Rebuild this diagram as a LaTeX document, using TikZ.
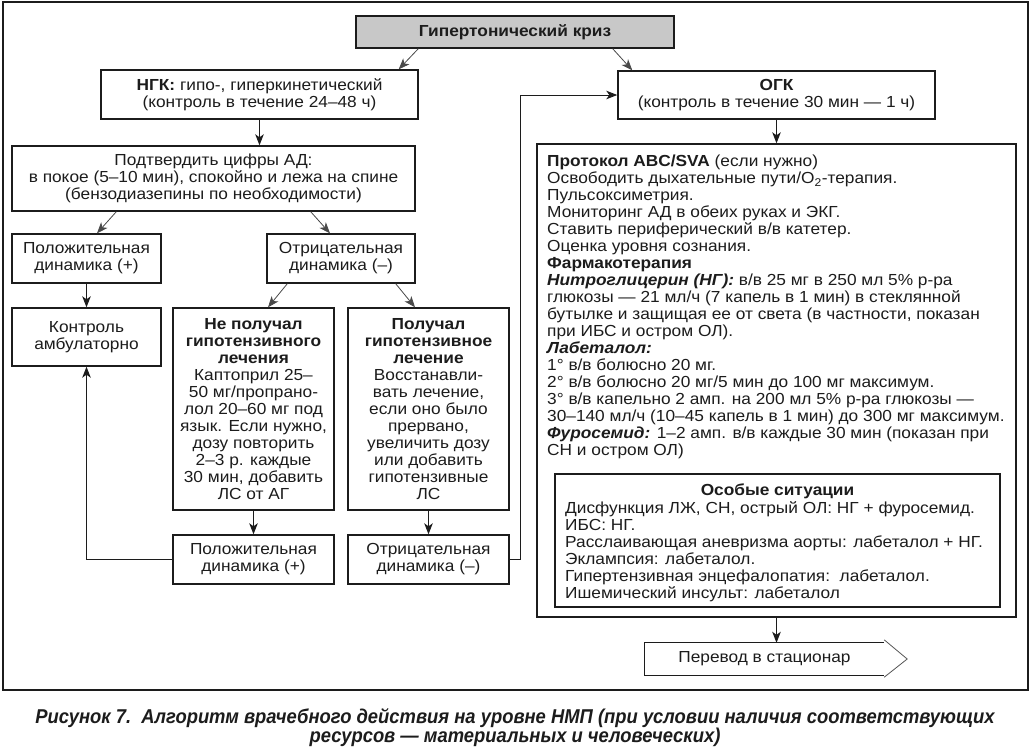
\documentclass[tikz,border=0pt]{standalone}
\usepackage{fontspec}
\setmainfont[FakeStretch=1.08]{Liberation Sans}
\newfontfamily\capfont[FakeStretch=0.92]{Liberation Sans}
\usetikzlibrary{arrows.meta}
\definecolor{ink}{HTML}{1C1C1C}
\definecolor{topgray}{HTML}{C8C8C8}
\newcommand\fsz{\fontsize{16}{17}\selectfont}
\begin{document}
\begin{tikzpicture}[x=1pt,y=-1pt,
  box/.style={draw=ink, line width=1.4pt, fill=white, align=center, inner sep=0pt, font=\fsz, text=ink},
  plain/.style={inner sep=0pt, font=\fsz, text=ink},
  arr/.style={draw=ink, line width=1pt, -{Stealth[length=11pt,width=8.5pt,inset=3pt]}},
  darr/.style={draw=ink!80, line width=0.8pt, -{Stealth[length=11pt,width=8.5pt,inset=3pt]}}]
\useasboundingbox (0,0) rectangle (1031,748);
\fill[white] (0,0) rectangle (1031,748);
% outer frame
\draw[ink, line width=1.4pt] (3,2) rectangle (1028,690);

\node[box, fill=topgray, minimum width=318pt, minimum height=32pt] (top) at (515,32) {\textbf{Гипертонический криз}};
\node[box, minimum width=317pt, minimum height=49pt] (ngk) at (259.5,94.5) {\textbf{НГК:} гипо-, гиперкинетический\\(контроль в течение 24–48 ч)};
\node[box, minimum width=317pt, minimum height=48pt] (ogk) at (776.5,95) {\textbf{ОГК}\\(контроль в течение 30 мин — 1 ч)};
\node[box, minimum width=403pt, minimum height=65pt] (confirm) at (213.5,178.5) {Подтвердить цифры АД:\\в покое (5–10 мин), спокойно и лежа на спине\\(бензодиазепины по необходимости)};
\node[box, minimum width=149pt, minimum height=49pt] (posL) at (86.5,258.5) {Положительная\\динамика (+)};
\node[box, minimum width=148pt, minimum height=49pt] (negL) at (341,258.5) {Отрицательная\\динамика (–)};
\node[box, minimum width=149pt, minimum height=58pt] (ctrl) at (86.5,337) {Контроль\\амбулаторно};
\node[box, minimum width=161pt, minimum height=202pt] (nop) at (253.5,409) {\textbf{Не получал}\\\textbf{гипотензивного}\\\textbf{лечения}\\Каптоприл 25–\\50 мг/пропрано-\\лол 20–60 мг под\\язык. Если нужно,\\дозу повторить\\2–3 р. каждые\\30 мин, добавить\\ЛС от АГ};
\node[box, minimum width=161pt, minimum height=202pt] (got) at (428.5,409) {\textbf{Получал}\\\textbf{гипотензивное}\\\textbf{лечение}\\Восстанавли-\\вать лечение,\\если оно было\\прервано,\\увеличить дозу\\или добавить\\гипотензивные\\ЛС};
\node[box, minimum width=161pt, minimum height=49pt] (posB) at (253.5,559.5) {Положительная\\динамика (+)};
\node[box, minimum width=161pt, minimum height=49pt] (negB) at (428.5,559.5) {Отрицательная\\динамика (–)};

% protocol box
\node[box, minimum width=479pt, minimum height=473pt] (proto) at (776.5,380.5) {};
\node[plain, align=left, anchor=north west] (prototext) at (547,155) {\textbf{Протокол ABC/SVA} (если нужно)\\
Освободить дыхательные пути/O\textsubscript{2}-терапия.\\
Пульсоксиметрия.\\
Мониторинг АД в обеих руках и ЭКГ.\\
Ставить периферический в/в катетер.\\
Оценка уровня сознания.\\
\textbf{Фармакотерапия}\\
\textbf{\textit{Нитроглицерин (НГ):}} в/в 25 мг в 250 мл 5\% р-ра\\
глюкозы — 21 мл/ч (7 капель в 1 мин) в стеклянной\\
бутылке и защищая ее от света (в частности, показан\\
при ИБС и остром ОЛ).\\
\textbf{\textit{Лабеталол:}}\\
1° в/в болюсно 20 мг.\\
2° в/в болюсно 20 мг/5 мин до 100 мг максимум.\\
3° в/в капельно 2 амп. на 200 мл 5\% р-ра глюкозы —\\
30–140 мл/ч (10–45 капель в 1 мин) до 300 мг максимум.\\
\textbf{\textit{Фуросемид:}} 1–2 амп. в/в каждые 30 мин (показан при\\
СН и остром ОЛ)};

\node[box, minimum width=445pt, minimum height=133pt] (special) at (777.5,540.5) {};
\node[plain] (spectitle) at (777.5,491) {\textbf{Особые ситуации}};
\node[plain, align=left, anchor=north west] (spectext) at (565,501) {Дисфункция ЛЖ, СН, острый ОЛ: НГ + фуросемид.\\
ИБС: НГ.\\
Расслаивающая аневризма аорты: лабеталол + НГ.\\
Эклампсия: лабеталол.\\
Гипертензивная энцефалопатия:\ \ лабеталол.\\
Ишемический инсульт: лабеталол};

% transfer
\node[plain, minimum width=239pt, minimum height=32pt] (transfer) at (764.5,659) {Перевод в стационар};
\draw[ink, line width=1.2pt] (transfer.north east) -- (transfer.north west) -- (transfer.south west) -- (transfer.south east);
\draw[ink!75, line width=0.8pt] ([yshift=3pt]transfer.north east) -- ([xshift=23pt]transfer.east) -- ([yshift=-2pt]transfer.south east);

% connectors
\draw[darr] ([xshift=63pt]top.south west) -- ([xshift=-20pt]ngk.north east);
\draw[darr] ([xshift=-62pt]top.south east) -- ([xshift=15pt]ogk.north west);
\draw[arr] (ngk.south) -- (ngk.south |- confirm.north);
\draw[arr] (ogk.south) -- (ogk.south |- proto.north);
\draw[darr] ([xshift=105pt]confirm.south west) -- ([xshift=10.5pt]posL.north);
\draw[darr] ([xshift=-105pt]confirm.south east) -- ([xshift=-11pt]negL.north);
\draw[arr] (posL.south) -- (ctrl.north);
\draw[darr] ([xshift=21pt]negL.south west) -- ([xshift=14.5pt]nop.north);
\draw[darr] ([xshift=-20pt]negL.south east) -- ([xshift=-13.5pt]got.north);
\draw[arr] (nop.south) -- (posB.north);
\draw[arr] (got.south) -- (negB.north);
\draw[arr] (posB.west) -| (ctrl.south);
\draw[arr] (negB.east) -- ++(11,0) |- (ogk.west);
\draw[arr] (proto.south) -- (proto.south |- transfer.north);

% caption
\node[inner sep=0pt, align=center, text=ink, font={\capfont\bfseries\itshape\fontsize{20}{19.5}\selectfont}] (caption) at (515,727.5) {Рисунок 7.\ \ Алгоритм врачебного действия на уровне НМП (при условии наличия соответствующих\\ресурсов — материальных и человеческих)};
\end{tikzpicture}
\end{document}
